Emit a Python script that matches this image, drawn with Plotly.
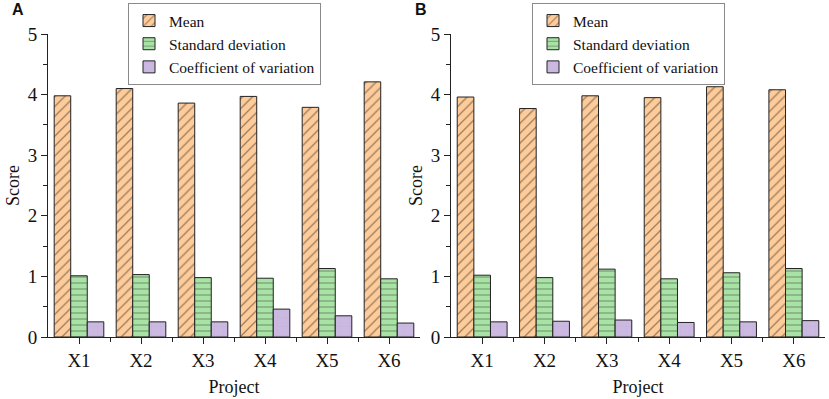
import plotly.graph_objects as go

categories = ["X1", "X2", "X3", "X4", "X5", "X6"]
series_names = ["Mean", "Standard deviation", "Coefficient of variation"]

mean_a = [3.98, 4.10, 3.86, 3.97, 3.79, 4.21]
std_a = [1.01, 1.03, 0.98, 0.97, 1.13, 0.96]
cv_a = [0.25, 0.25, 0.25, 0.46, 0.35, 0.23]

mean_b = [3.96, 3.77, 3.98, 3.95, 4.13, 4.08]
std_b = [1.02, 0.98, 1.12, 0.96, 1.06, 1.13]
cv_b = [0.25, 0.26, 0.28, 0.24, 0.25, 0.27]

y_ticks = [0, 1, 2, 3, 4, 5]

FONT = "Liberation Serif"
colors = ["#FFCC99", "#A8E2A4", "#CBB9E2"]
patterns = [
    dict(shape="/", fgcolor="#2b2b2b", size=7, solidity=0.18, fillmode="overlay"),
    dict(shape="-", fgcolor="#3a3a3a", size=6, solidity=0.17, fillmode="overlay"),
    dict(shape="+", fgcolor="#B9A6D6", size=9, solidity=0.08, fillmode="overlay"),
]

x_idx = list(range(len(categories)))

fig = go.Figure()

panels = [
    ([mean_a, std_a, cv_a], "x", "y", "legend"),
    ([mean_b, std_b, cv_b], "x2", "y2", "legend2"),
]
for vals, xa, ya, lg in panels:
    for name, v, c, p in zip(series_names, vals, colors, patterns):
        fig.add_trace(go.Bar(
            x=x_idx, y=v, name=name, xaxis=xa, yaxis=ya, legend=lg,
            marker=dict(color=c, pattern=p, line=dict(color="#222222", width=1)),
            hoverinfo="skip",
        ))

W, H = 829, 399
ml, mr, mt, mb = 48, 4, 34, 62
pw = W - ml - mr
ph = H - mt - mb
dA = [0, (420 - ml) / pw]
dB = [(451 - ml) / pw, 1]

xcommon = dict(
    range=[-0.5, 5.5], tickvals=x_idx, ticktext=categories,
    showline=True, linecolor="#222", linewidth=1, mirror=False,
    ticks="outside", ticklen=6, tickcolor="#222", tickwidth=1,
    minor=dict(tickvals=[i + 0.5 for i in x_idx[:-1]], ticks="outside", ticklen=4, tickcolor="#222"),
    showgrid=False, zeroline=False,
    tickfont=dict(family=FONT, size=19, color="#111"),
    title=dict(text="Project", font=dict(family=FONT, size=18, color="#111"), standoff=10),
)
ycommon = dict(
    range=[0, 5], tickvals=y_ticks,
    showline=True, linecolor="#222", linewidth=1,
    ticks="outside", ticklen=6, tickcolor="#222", tickwidth=1,
    minor=dict(dtick=0.5, tick0=0, ticks="outside", ticklen=4, tickcolor="#222"),
    showgrid=False, zeroline=False,
    tickfont=dict(family=FONT, size=19, color="#111"),
    title=dict(text="Score", font=dict(family=FONT, size=18, color="#111"), standoff=3),
)

legcommon = dict(
    bgcolor="white", bordercolor="#8a8a8a", borderwidth=1,
    font=dict(family=FONT, size=15.5, color="#111"),
    xanchor="left", yanchor="top", y=1 + (mt - 3) / ph,
    tracegroupgap=0, itemwidth=30,
)

fig.update_layout(
    width=W, height=H,
    margin=dict(l=ml, r=mr, t=mt, b=mb, autoexpand=False),
    paper_bgcolor="white", plot_bgcolor="white",
    barmode="group", bargap=0.2, bargroupgap=0,
    showlegend=True,
    xaxis=dict(domain=dA, anchor="y", **xcommon),
    yaxis=dict(domain=[0, 1], anchor="x", **ycommon),
    xaxis2=dict(domain=dB, anchor="y2", **xcommon),
    yaxis2=dict(domain=[0, 1], anchor="x2", **ycommon),
    legend=dict(x=(128 - ml) / pw, **legcommon),
    legend2=dict(x=(532 - ml) / pw, **legcommon),
    annotations=[
        dict(text="<b>A</b>", x=(10 - ml) / pw, y=1 + (mt - 10) / ph,
             xref="paper", yref="paper",
             xanchor="left", yanchor="middle", showarrow=False,
             font=dict(family="Liberation Sans", size=16, color="#111")),
        dict(text="<b>B</b>", x=(413 - ml) / pw, y=1 + (mt - 10) / ph,
             xref="paper", yref="paper",
             xanchor="left", yanchor="middle", showarrow=False,
             font=dict(family="Liberation Sans", size=16, color="#111")),
    ],
)

fig.write_html(
    "out.html",
    config={"displayModeBar": False},
    post_script="document.body.style.margin='0';document.body.style.overflow='hidden';",
)
